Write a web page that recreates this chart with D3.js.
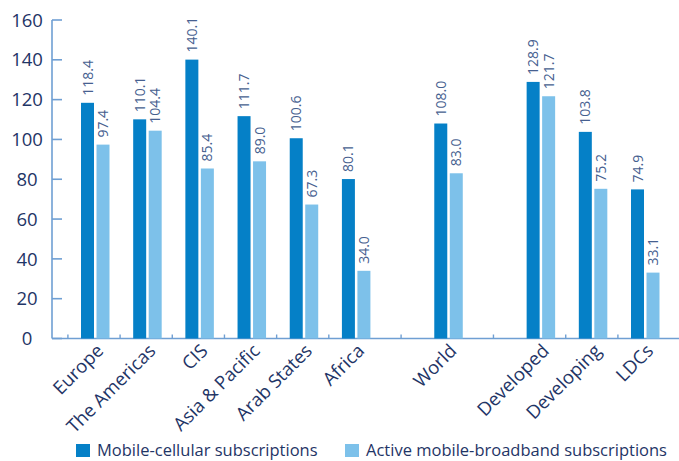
<!DOCTYPE html>
<meta charset="utf-8">
<style>
body{margin:0;background:#fff;}
svg text{font-family:"Open Sans", Lato, sans-serif;}
</style>
<body>
<script src="https://d3js.org/d3.v7.min.js"></script>
<script>
// chart data
var categories = ["Europe", "The Americas", "CIS", "Asia & Pacific", "Arab States", "Africa",
                  "World", "Developed", "Developing", "LDCs"];
var sections = [0, 0, 0, 0, 0, 0, 1, 2, 2, 2];   // blocks split by a gap on the axis
var cellular  = [118.4, 110.1, 140.1, 111.7, 100.6, 80.1, 108.0, 128.9, 103.8, 74.9];
var broadband = [97.4, 104.4, 85.4, 89.0, 67.3, 34.0, 83.0, 121.7, 75.2, 33.1];
var seriesNames = ["Mobile-cellular subscriptions", "Active mobile-broadband subscriptions"];
var yTicks = [0, 20, 40, 60, 80, 100, 120, 140, 160];

var w = 679, h = 461;
var darkBlue = "#0580c7", lightBlue = "#7dc1ea", axisCol = "#6f9fd3";
var navy = "#1f3566", labelCol = "#46608f";
var gapWeight = 0.77;

var svg = d3.select("body").append("svg")
  .attr("width", w).attr("height", h);

var slot = categories.map(function(c, i){ return i + sections[i] * gapWeight; });

var x = d3.scaleLinear()
  .domain([0, d3.max(slot)])
  .range([95.5, 645.5]);

var y = d3.scaleLinear()
  .domain([0, 160])
  .range([338.5, 20]);

var barW = 13;

var data = categories.map(function(c, i){
  return {name: c, cx: x(slot[i]), vals: [cellular[i], broadband[i]]};
});

// y axis
svg.append("line")
  .attr("x1", 52).attr("x2", 52)
  .attr("y1", y(160)).attr("y2", y(0))
  .attr("stroke", axisCol).attr("stroke-width", 1.6);

svg.selectAll(".ytick").data(yTicks).enter().append("line")
  .attr("x1", 52).attr("x2", 62)
  .attr("y1", function(d){ return y(d); })
  .attr("y2", function(d){ return y(d); })
  .attr("stroke", axisCol).attr("stroke-width", 1.6);

svg.selectAll(".ylab").data(yTicks).enter().append("text")
  .attr("x", 27)
  .attr("y", function(d){ return y(d); })
  .attr("dy", "0.36em")
  .attr("text-anchor", "middle")
  .attr("fill", navy)
  .style("font-size", "18.5px")
  .text(function(d){ return d; });

// x axis
svg.append("line")
  .attr("x1", 52).attr("x2", 679)
  .attr("y1", y(0)).attr("y2", y(0))
  .attr("stroke", axisCol).attr("stroke-width", 1.6);

var tickPos = data.map(function(d, i){
  if (i == 0) return d.cx - (x(1) - x(0)) / 2 - 1.5;
  return (data[i-1].cx + d.cx) / 2 - 1.5;
});
svg.selectAll(".xtick").data(tickPos).enter().append("line")
  .attr("x1", function(d){ return d; })
  .attr("x2", function(d){ return d; })
  .attr("y1", y(0) - 4).attr("y2", y(0))
  .attr("stroke", axisCol).attr("stroke-width", 1.4);

// bars
var group = svg.selectAll(".grp").data(data).enter().append("g");

[darkBlue, lightBlue].forEach(function(col, k){
  group.append("rect")
    .attr("x", function(d){ return d.cx - 14.5 + k * 15.5; })
    .attr("width", barW)
    .attr("y", function(d){ return y(d.vals[k]); })
    .attr("height", function(d){ return y(0) - y(d.vals[k]); })
    .attr("fill", col);

  group.append("text")
    .attr("transform", function(d){
      return "translate(" + (d.cx - 8 + k * 15.5) + "," + (y(d.vals[k]) - 7) + ") rotate(-90)";
    })
    .attr("dy", "0.36em")
    .attr("fill", labelCol)
    .style("font-size", "14px")
    .text(function(d){ return d.vals[k].toFixed(1); });
});

// category labels
group.append("text")
  .attr("transform", function(d){
    return "translate(" + (d.cx + 9) + "," + 352 + ") rotate(-45)";
  })
  .attr("text-anchor", "end")
  .attr("fill", navy)
  .style("font-size", "18.5px")
  .text(function(d){ return d.name; });

// legend
var legX = [76, 345];
seriesNames.forEach(function(n, k){
  svg.append("rect")
    .attr("x", legX[k]).attr("y", 444)
    .attr("width", 14).attr("height", 13)
    .attr("fill", k == 0 ? darkBlue : lightBlue);
  svg.append("text")
    .attr("x", legX[k] + 21).attr("y", 456)
    .attr("fill", navy)
    .style("font-size", "16.5px")
    .text(n);
});
</script>
</body>
